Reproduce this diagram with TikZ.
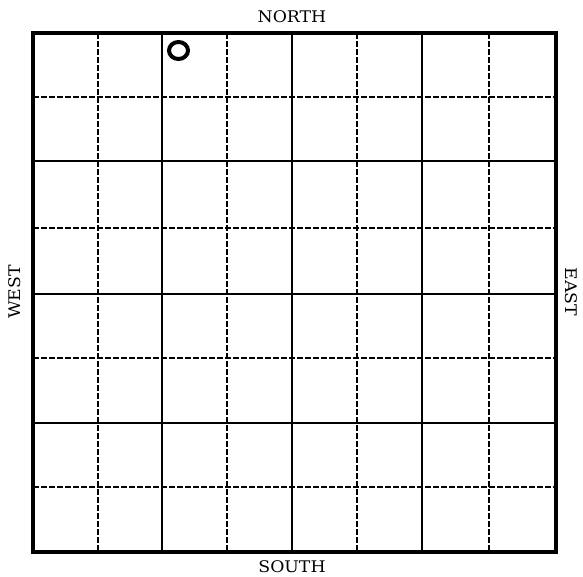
\documentclass[tikz,border=0pt]{standalone}
\usepackage{fontspec}
\newfontfamily\compassfont{DejaVu Serif}
\begin{document}
\begin{tikzpicture}[x=1pt,y=-1pt,
  thickline/.style={line width=2.2pt,black},
  dashline/.style={line width=1.7pt,black,dash pattern=on 6pt off 2pt},
  border/.style={line width=3.5pt,black},
  compass/.style={font=\compassfont\fontsize{16}{18}\selectfont,inner sep=0pt}]
\useasboundingbox (0,0) rectangle (583,577);
\def\L{33}\def\R{556}\def\T{33}\def\B{552}
% dashed lines
\foreach \v in {98,227,357,489}{\draw[dashline] (\v,\T) -- (\v,\B);}
\foreach \h in {97,228,358,487}{\draw[dashline] (\L,\h) -- (\R,\h);}
% solid lines
\foreach \v in {162,292,422}{\draw[thickline] (\v,\T) -- (\v,\B);}
\foreach \h in {161,294,423}{\draw[thickline] (\L,\h) -- (\R,\h);}
% border
\draw[border] (\L,\T) rectangle (\R,\B);
% circle
\draw[line width=4pt] (178.5,50.5) ellipse [x radius=9.5pt, y radius=8.5pt];
% labels
\node[compass] (north) at (292,17) {\scalebox{1.08}[1]{NORTH}};
\node[compass] (south) at (292,566.5) {\scalebox{1.08}[1]{SOUTH}};
\node[compass,rotate=90] (west) at (15,292) {\scalebox{1.08}[1]{WEST}};
\node[compass,rotate=-90] (east) at (571,292) {\scalebox{1.08}[1]{EAST}};
\end{tikzpicture}
\end{document}
